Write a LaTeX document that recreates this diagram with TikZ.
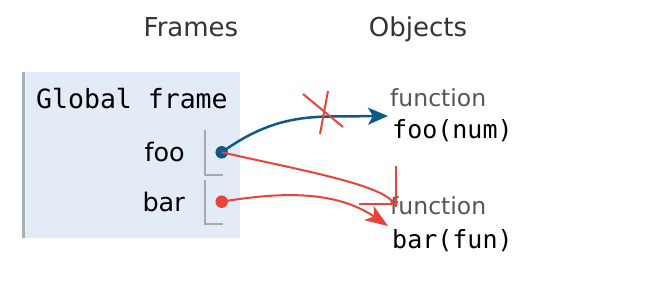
\documentclass[tikz,border=0pt]{standalone}
\usepackage{fontspec}
\setmainfont{DejaVu Sans}
\setmonofont{DejaVu Sans Mono}
\usetikzlibrary{arrows.meta}

\definecolor{framebg}{HTML}{E2EBF6}
\definecolor{frameedge}{HTML}{A6B3B6}
\definecolor{slotedge}{HTML}{AAAAAA}
\definecolor{ptrblue}{HTML}{0E5A87}
\definecolor{ptrred}{HTML}{E8433A}
\definecolor{headtext}{HTML}{333333}
\definecolor{typetext}{HTML}{555555}

\tikzset{
  heading/.style={font=\fontsize{26}{30}\selectfont, text=headtext, inner sep=0pt, anchor=base},
  varname/.style={font=\fontsize{25.5}{30}\selectfont, inner sep=0pt, anchor=base east},
  typelabel/.style={font=\fontsize{23.5}{28}\selectfont, text=typetext, inner sep=0pt, anchor=base west},
  codelabel/.style={font=\ttfamily\fontsize{25}{30}\selectfont, inner sep=0pt, anchor=base west},
  slot/.style={draw=slotedge, line width=2pt},
  ptrdot/.style={circle, inner sep=0pt, minimum size=12.5pt},
  bluearrow/.style={draw=ptrblue, line width=2.5pt, -{Stealth[length=20pt, width=17pt, inset=5pt]}},
  redarrow/.style={draw=ptrred, line width=2pt, -{Stealth[length=23pt, width=17pt, inset=6pt]}},
  redline/.style={draw=ptrred, line width=2pt},
}

\begin{document}
\begin{tikzpicture}[x=1pt, y=-1pt]
  \useasboundingbox (0,0) rectangle (646,298);

  % column headings
  \node[heading] (hframes) at (191,36) {Frames};
  \node[heading] (hobjects) at (418,36) {Objects};

  % global frame
  \fill[framebg] (22,72) rectangle (240,238);
  \draw[frameedge, line width=3pt] (23.5,72) -- (23.5,238);
  \node[font=\ttfamily\fontsize{26.5}{30}\selectfont, inner sep=0pt, anchor=base west] (gf) at (36,108) {Global frame};

  \node[varname] (foo) at (185,161) {foo};
  \node[varname] (bar) at (185,211) {bar};

  % value slots
  \draw[slot] (205,130) -- (205,175) -- (223,175);
  \draw[slot] (205,180) -- (205,224) -- (223,224);

  \node[ptrdot, fill=ptrblue] (foodot) at (221.7,152.3) {};
  \node[ptrdot, fill=ptrred] (bardot) at (221.7,201.7) {};

  % heap objects
  \node[typelabel] (ftype) at (390,106) {function};
  \node[codelabel] (fcode) at (392,138) {foo(num)};
  \node[typelabel] (btype) at (390,214) {function};
  \node[codelabel] (bcode) at (392,248) {bar(fun)};

  \coordinate (ftip) at (388,116);
  \coordinate (bend) at (394,204);
  \coordinate (btip) at (388,226);

  % pointers
  \draw[bluearrow] (foodot.center) .. controls (260,125) and (290,117) .. (330,116.5) -- (ftip);
  \draw[redline] (foodot.center) .. controls (300,170) and (385,185) .. (bend);
  \draw[redarrow] (bardot.center) .. controls (280,192) and (335,190) .. (btip);

  % strike marks
  \draw[redline] (303,94) -- (343,127);
  \draw[redline] (328,91) -- (320,134);
  \draw[redline] (396,166) -- (396,207);
  \draw[redline] (359,203.5) -- (397,203.5);
\end{tikzpicture}
\end{document}
